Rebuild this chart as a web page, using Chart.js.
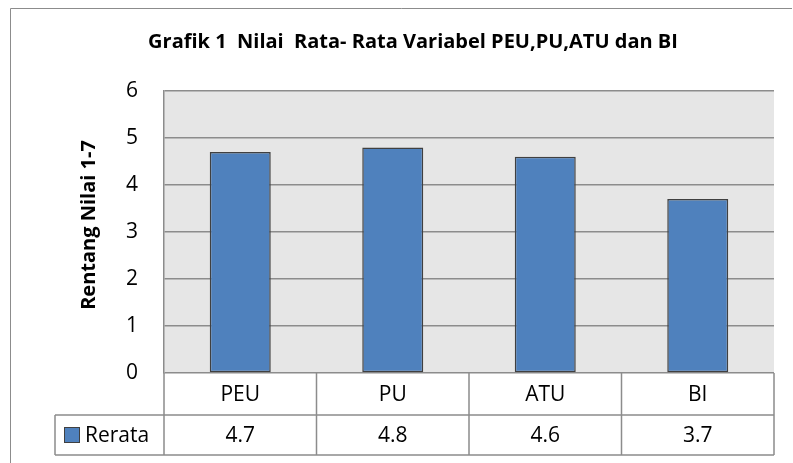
<!DOCTYPE html>
<html>
<head>
<meta charset="utf-8">
<script src="https://cdn.jsdelivr.net/npm/chart.js@4"></script>
<style>
html,body{margin:0;padding:0;background:#fff;}
#wrap{position:relative;width:793px;height:463px;}
</style>
</head>
<body>
<div id="wrap"><canvas id="c" width="793" height="463"></canvas></div>
<script>
const chartTitle = "Grafik 1  Nilai  Rata- Rata Variabel PEU,PU,ATU dan BI";
const yAxisTitle = "Rentang Nilai 1-7";
const categories = ["PEU", "PU", "ATU", "BI"];
const seriesName = "Rerata";
const rerata = [4.7, 4.8, 4.6, 3.7];
const yTicks = [0, 1, 2, 3, 4, 5, 6];

const FONT = "'Open Sans', Lato, sans-serif";
const BAR = "#4f81bd";
const BAR_BORDER = "#404040";
const LINE = "#8c8c8c";

const frame = {
  id: "frame",
  beforeDraw(chart) {
    const ctx = chart.ctx;
    const a = chart.chartArea;
    ctx.save();
    ctx.fillStyle = "#ffffff";
    ctx.fillRect(0, 0, chart.width, chart.height);
    ctx.strokeStyle = "#8c8c8c";
    ctx.lineWidth = 1;
    ctx.beginPath();
    ctx.moveTo(10.5, 463);
    ctx.lineTo(10.5, 8.5);
    ctx.lineTo(792, 8.5);
    ctx.stroke();
    ctx.fillStyle = "#e6e6e6";
    ctx.fillRect(a.left, a.top, a.right - a.left, a.bottom - a.top);
    ctx.fillStyle = "#000";
    ctx.font = "bold 20px " + FONT;
    ctx.textAlign = "center";
    ctx.textBaseline = "middle";
    ctx.fillText(chartTitle, 413, 42);
    ctx.save();
    ctx.font = "bold 20px " + FONT;
    ctx.translate(89, 225);
    ctx.rotate(-Math.PI / 2);
    ctx.fillText(yAxisTitle, 0, 0);
    ctx.restore();
    ctx.restore();
  },
  afterDraw(chart) {
    const ctx = chart.ctx;
    const a = chart.chartArea;
    const xs = chart.scales.x;
    const n = categories.length;
    const colW = (a.right - a.left) / n;
    const r1Top = a.bottom, r1Bot = a.bottom + 42, r2Bot = r1Bot + 40;
    const legLeft = 55;
    ctx.save();
    ctx.strokeStyle = LINE;
    ctx.lineWidth = 1.5;
    ctx.beginPath();
    ctx.moveTo(legLeft, r1Bot); ctx.lineTo(a.right, r1Bot);
    ctx.moveTo(legLeft, r2Bot); ctx.lineTo(a.right, r2Bot);
    ctx.moveTo(legLeft, r1Bot); ctx.lineTo(legLeft, r2Bot);
    ctx.moveTo(a.right, r1Top); ctx.lineTo(a.right, r2Bot);
    for (let i = 0; i < n; i++) {
      const x = a.left + i * colW;
      ctx.moveTo(x, r1Top); ctx.lineTo(x, r2Bot);
    }
    ctx.stroke();
    ctx.fillStyle = "#000";
    ctx.font = "21px " + FONT;
    ctx.textAlign = "center";
    ctx.textBaseline = "middle";
    categories.forEach((c, i) => {
      const cx = xs.getPixelForValue(i);
      ctx.fillText(c, cx, (r1Top + r1Bot) / 2 + 1);
      ctx.fillText(String(rerata[i]), cx, (r1Bot + r2Bot) / 2 + 1);
    });
    ctx.fillStyle = BAR;
    ctx.fillRect(64, 427, 16, 16);
    ctx.strokeStyle = BAR_BORDER;
    ctx.lineWidth = 1;
    ctx.strokeRect(64.5, 427.5, 15, 15);
    ctx.fillStyle = "#000";
    ctx.textAlign = "left";
    ctx.fillText(seriesName, 85, (r1Bot + r2Bot) / 2 + 1);
    ctx.restore();
  }
};

new Chart(document.getElementById("c"), {
  type: "bar",
  data: {
    labels: categories,
    datasets: [{
      label: seriesName,
      data: rerata,
      backgroundColor: BAR,
      borderColor: BAR_BORDER,
      borderWidth: 1.5,
      borderSkipped: false,
      categoryPercentage: 1,
      barPercentage: 0.4
    }]
  },
  options: {
    responsive: false,
    animation: false,
    devicePixelRatio: 1,
    layout: { padding: { left: 68, top: 91, right: 19, bottom: 90 } },
    plugins: { legend: { display: false }, title: { display: false }, tooltip: { enabled: false } },
    scales: {
      x: {
        grid: { display: false, drawTicks: false },
        border: { display: false },
        ticks: { display: false }
      },
      y: {
        min: 0, max: 6,
        afterBuildTicks(scale) { scale.ticks = yTicks.map(v => ({ value: v })); },
        afterFit(scale) { scale.width = 164 - 68; },
        grid: { color: LINE, lineWidth: 1.5, drawTicks: false },
        border: { display: true, color: LINE, width: 1.5 },
        ticks: { padding: 26, color: "#000", font: { family: FONT, size: 21 } },
        title: { display: false }
      }
    }
  },
  plugins: [frame]
});
</script>
</body>
</html>
